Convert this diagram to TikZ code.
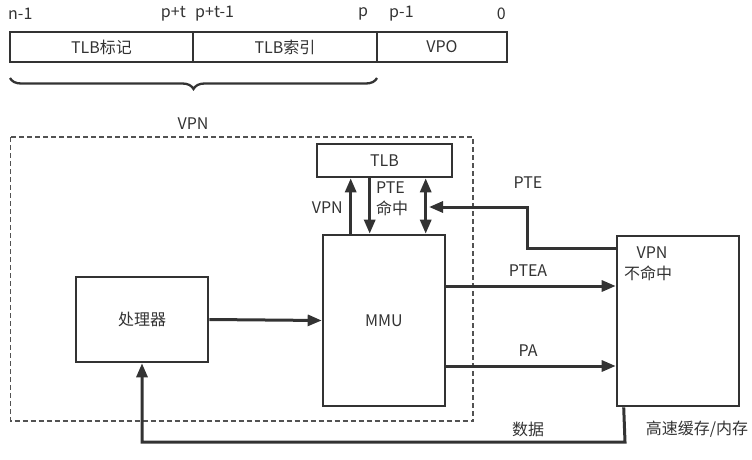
\documentclass[tikz,border=0pt]{standalone}
\usepackage{fontspec}
\setmainfont{Noto Sans CJK SC}
\usetikzlibrary{arrows.meta,decorations.pathreplacing,calc}
\definecolor{ln}{HTML}{333333}
\definecolor{tx}{HTML}{333333}
\tikzset{
  box/.style={draw=ln,line width=2.6pt,inner sep=0pt,text=tx,font=\fontsize{16}{18}\selectfont},
  lbl/.style={inner sep=0pt,text=tx,font=\fontsize{16}{18}\selectfont},
  conn/.style={draw=ln,line width=3pt},
  arr/.style={conn,-{Triangle[length=14pt,width=11pt]}},
  darr/.style={conn,{Triangle[length=14pt,width=11pt]}-{Triangle[length=14pt,width=11pt]}},
}
\begin{document}
\begin{tikzpicture}[x=1pt,y=-1pt]
\useasboundingbox (0,0) rectangle (752,460);
% address bar
\node[box,minimum width=183pt,minimum height=30pt] (tag) at (101.5,47) {TLB标记};
\node[box,minimum width=184pt,minimum height=30pt] (idx) at (285,47) {TLB索引};
\node[box,minimum width=130pt,minimum height=30pt] (vpo) at (442,47) {VPO};
\node[lbl,anchor=west] (b1) at (8,14) {n-1};
\node[lbl,anchor=east] (b2) at (186,14) {p+t};
\node[lbl,anchor=west] (b3) at (195,14) {p+t-1};
\node[lbl] (b4) at (363,14) {p};
\node[lbl,anchor=west] (b5) at (389,14) {p-1};
\node[lbl,anchor=east] (b6) at (506,14) {0};
\coordinate (brl) at (10,78);
\coordinate (brr) at (377,78);
\draw[draw=ln,line width=2.3pt,decorate,decoration={brace,amplitude=11pt,aspect=0.5}] (brr) -- (brl);
\node[lbl] (vpn) at (193,124) {VPN};
% dashed region
\draw[draw=ln!85,line width=1.2pt,dash pattern=on 5pt off 3pt] (10.5,137) rectangle (473,421);
% boxes
\node[box,minimum width=135pt,minimum height=33pt] (tlb) at (384.5,160.5) {TLB};
\node[box,minimum width=122pt,minimum height=171pt] (mmu) at (384,320.5) {MMU};
\node[box,minimum width=132pt,minimum height=85pt] (proc) at (142,319.5) {处理器};
\node[box,minimum width=122pt,minimum height=170pt] (cache) at (678,321) {};
\node[lbl] (vpnm) at (652,253) {VPN};
\node[lbl,anchor=west] (miss) at (624,273) {不命中};
\node[lbl] (mem) at (697,429) {高速缓存/内存};
% TLB arrows
\draw[arr] ([xshift=29pt]mmu.north west) -- ([xshift=29pt]mmu.north west |- tlb.south);
\draw[arr] ([xshift=48pt]mmu.north west |- tlb.south) -- ([xshift=48pt]mmu.north west);
\draw[darr] ([xshift=104pt]mmu.north west) -- ([xshift=104pt]mmu.north west |- tlb.south);
\node[lbl,anchor=east] (lvpn) at (343,208) {VPN};
\node[lbl,anchor=west] (lpte) at (376,188) {PTE};
\node[lbl,anchor=west] (lhit) at (376,208) {命中};
% PTE back
\coordinate (pteA) at ([yshift=-14pt]cache.north west);
\coordinate (pteB) at (527,207);
\coordinate (pteC) at (429,207);
\draw[arr] (pteA) -| (pteB) -- (pteC);
\node[lbl] (lpte2) at (528,183) {PTE};
% PTEA, PA
\draw[arr] (mmu.east |- 0,286) -- (cache.west |- 0,286);
\node[lbl] (lptea) at (528,271) {PTEA};
\draw[arr] (mmu.east |- 0,366) -- (cache.west |- 0,366);
\node[lbl] (lpa) at (528,351) {PA};
% processor -> MMU
\draw[arr] (proc.east) -- (mmu.west);
% data
\coordinate (dA) at ([xshift=8pt]cache.south west);
\coordinate (dB) at (625,442);
\draw[arr] (dA) -- (dB) -| (proc.south);
\node[lbl] (ldata) at (528,429) {数据};
\end{tikzpicture}
\end{document}
